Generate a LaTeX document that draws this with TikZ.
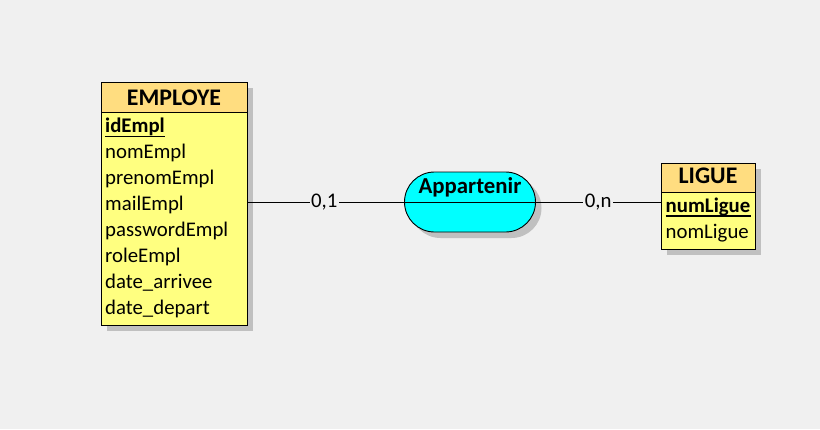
\documentclass[tikz,border=0pt]{standalone}
\usepackage{fontspec}
\setmainfont{Carlito}
\usetikzlibrary{shapes.misc,shadows}
\definecolor{canvas}{HTML}{F0F0F0}
\definecolor{entityhead}{HTML}{FFDD80}
\definecolor{entitybody}{HTML}{FFFF80}
\definecolor{assoc}{HTML}{00FFFF}
\definecolor{shade}{HTML}{C0C0C0}
\tikzset{
  box/.style={draw=black, line width=0.9pt, inner sep=0pt, outer sep=0pt, anchor=north west},
  shaded/.style={drop shadow={shadow xshift=6pt, shadow yshift=-6pt, fill=shade, opacity=1}},
  entbody/.style={box, fill=entitybody, shaded},
  enthead/.style={box, fill=entityhead},
  title/.style={font=\fontsize{23.8}{27}\selectfont\bfseries, inner sep=0pt, anchor=base},
  attr/.style={font=\fontsize{20.8}{24}\selectfont, inner sep=0pt, anchor=base west},
  keyattr/.style={attr, font=\fontsize{20.8}{24}\selectfont\bfseries},
  keyline/.style={draw=black, line width=1.2pt},
  link/.style={draw=black, line width=0.9pt},
  card/.style={fill=canvas, font=\fontsize{20.8}{24}\selectfont, inner sep=1.5pt}
}
\begin{document}
\begin{tikzpicture}[x=1pt,y=-1pt]
\fill[canvas] (0,0) rectangle (820,429);
\useasboundingbox (0,0) rectangle (820,429);

% Entity EMPLOYE
\node[entbody, minimum width=146pt, minimum height=243pt] (employe) at (101,82) {};
\node[enthead, minimum width=146pt, minimum height=30pt] (employeHead) at (101,82) {};
\node[title] (employeTitle) at (174,105) {EMPLOYE};
\node[keyattr] (idEmpl) at (105,132.7) {idEmpl};
\draw[keyline] (idEmpl.south west) -- (idEmpl.south east);
\foreach \name [count=\i] in {nomEmpl,prenomEmpl,mailEmpl,passwordEmpl,roleEmpl,date\_arrivee,date\_depart}
  \node[attr] (empAttr\i) at (105,132.7+\i*25.94) {\name};

% Entity LIGUE
\node[entbody, minimum width=94pt, minimum height=86pt] (ligue) at (661,163) {};
\node[enthead, minimum width=94pt, minimum height=29pt] (ligueHead) at (661,163) {};
\node[title] (ligueTitle) at (708,183.3) {LIGUE};
\node[keyattr] (numLigue) at (665.5,212.3) {numLigue};
\draw[keyline] (numLigue.south west) -- (numLigue.south east);
\node[attr] (nomLigue) at (665.5,238.3) {nomLigue};

% Association Appartenir
\node[rounded rectangle, draw=black, line width=0.9pt, fill=assoc, shaded,
      minimum width=131pt, minimum height=60pt, inner sep=0pt, outer sep=0pt] (appartenir) at (470,202) {};
\draw[link] (appartenir.west) -- (appartenir.east);
\node[title, font=\fontsize{22.8}{26}\selectfont\bfseries] (appTitle) at (470,193.3) {Appartenir};

% Links with cardinalities
\draw[link] (appartenir.west) -- (appartenir.west -| employe.east)
  node[card, pos=0.51] (card1) {0,1};
\draw[link] (appartenir.east) -- (appartenir.east -| ligue.west)
  node[card, midway] (card2) {0,n};
\end{tikzpicture}
\end{document}
